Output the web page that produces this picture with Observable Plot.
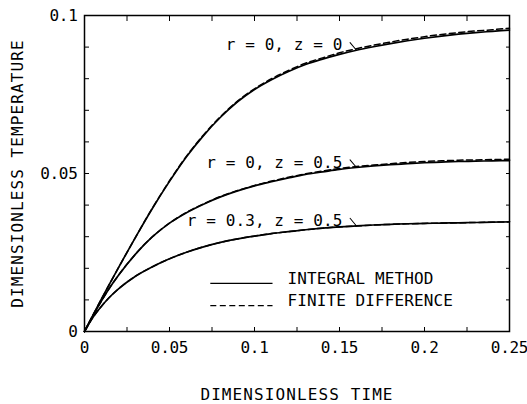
<!DOCTYPE html>
<html>
<head>
<meta charset="utf-8">
<script src="https://cdn.jsdelivr.net/npm/d3@7"></script>
<script src="https://cdn.jsdelivr.net/npm/@observablehq/plot@0.6"></script>
<style>
  body { margin: 0; background: #fff; }
  #chart svg text { font-family: "DejaVu Sans Mono", monospace; }
  g[aria-description="tick label"] text { letter-spacing: -0.3px; }
  g[aria-description="axis title"] text { letter-spacing: 1.1px; }
  g[aria-description="curve label"] text { letter-spacing: 0.1px; }
  g[aria-description="legend label"] text { letter-spacing: 0.1px; }
</style>
</head>
<body>
<div id="chart"></div>
<script>
// Dimensionless time samples shared by all curves
const time = [0, 0.005, 0.01, 0.015, 0.02, 0.03, 0.04, 0.05, 0.06, 0.07, 0.08, 0.09,
  0.10, 0.11, 0.12, 0.13, 0.14, 0.15, 0.16, 0.17, 0.18, 0.19, 0.20, 0.21, 0.22, 0.23, 0.24, 0.25];

// Integral method
const integralR0Z0 = [0, 0.0052, 0.0103, 0.0153, 0.0202, 0.0298, 0.0390, 0.0475, 0.0553, 0.0620, 0.0678, 0.0727,
  0.0766, 0.0797, 0.0823, 0.0845, 0.0862, 0.0877, 0.0890, 0.0901, 0.0911, 0.0920, 0.0928, 0.0935, 0.0941, 0.0946, 0.0950, 0.0954];
const integralR0Z05 = [0, 0.0050, 0.0097, 0.0140, 0.0178, 0.0245, 0.0300, 0.0343, 0.0376, 0.0403, 0.0426, 0.0445,
  0.0461, 0.0474, 0.0486, 0.0497, 0.0505, 0.0513, 0.0519, 0.0524, 0.0528, 0.0531, 0.0534, 0.0536, 0.0538, 0.0539, 0.0540, 0.0541];
const integralR03Z05 = [0, 0.0045, 0.0080, 0.0110, 0.0135, 0.0175, 0.0205, 0.0230, 0.0251, 0.0268, 0.0282, 0.0293,
  0.0302, 0.0310, 0.0316, 0.0322, 0.0327, 0.0331, 0.0334, 0.0337, 0.0339, 0.0341, 0.0342, 0.0343, 0.0344, 0.0345, 0.0346, 0.0347];

// Finite difference
const finiteR0Z0 = [0, 0.0052, 0.0103, 0.0153, 0.0202, 0.0298, 0.0391, 0.0477, 0.0555, 0.0622, 0.0680, 0.0729,
  0.0768, 0.0800, 0.0826, 0.0849, 0.0866, 0.0882, 0.0895, 0.0906, 0.0916, 0.0925, 0.0933, 0.0940, 0.0946, 0.0951, 0.0955, 0.0960];
const finiteR0Z05 = [0, 0.0050, 0.0097, 0.0140, 0.0178, 0.0245, 0.0300, 0.0343, 0.0377, 0.0404, 0.0427, 0.0446,
  0.0462, 0.0476, 0.0488, 0.0499, 0.0508, 0.0516, 0.0522, 0.0527, 0.0531, 0.0535, 0.0538, 0.0540, 0.0542, 0.0543, 0.0544, 0.0545];
const finiteR03Z05 = [0, 0.0045, 0.0080, 0.0110, 0.0135, 0.0175, 0.0205, 0.0230, 0.0251, 0.0268, 0.0282, 0.0293,
  0.0302, 0.0310, 0.0316, 0.0322, 0.0327, 0.0331, 0.0334, 0.0337, 0.0339, 0.0341, 0.0342, 0.0343, 0.0344, 0.0345, 0.0346, 0.0347];

// Curve names and tick labels
const curveNames = ["r = 0, z = 0", "r = 0, z = 0.5", "r = 0.3, z = 0.5"];
const methodNames = ["INTEGRAL METHOD", "FINITE DIFFERENCE"];
const xTickValues = [0, 0.05, 0.1, 0.15, 0.2, 0.25];
const xTickLabels = ["0", "0.05", "0.1", "0.15", "0.2", "0.25"];
const yTickValues = [0, 0.05, 0.1];
const yTickLabels = ["0", "0.05", "0.1"];
const xMinorTicks = [0, 0.025, 0.05, 0.075, 0.1, 0.125, 0.15, 0.175, 0.2, 0.225, 0.25];
const yMinorTicks = [0, 0.01, 0.02, 0.03, 0.04, 0.05, 0.06, 0.07, 0.08, 0.09, 0.1];

// Long-form rows for the line marks
const toRows = (values, name) => time.map((t, i) => ({t, v: values[i], name}));
const integralRows = [integralR0Z0, integralR0Z05, integralR03Z05].flatMap((s, k) => toRows(s, curveNames[k]));
const finiteRows = [finiteR0Z0, finiteR0Z05, finiteR03Z05].flatMap((s, k) => toRows(s, curveNames[k]));

// Each curve label hangs off its curve at t = 0.16
const labelIndex = time.indexOf(0.16);
const curveLabels = [integralR0Z0, integralR0Z05, integralR03Z05].map((s, k) => ({
  t: time[labelIndex], v: s[labelIndex], text: curveNames[k]
}));

// Legend placement inside the frame (data units)
const legendX1 = 0.074, legendX2 = 0.1106, legendTextX = 0.1194;
const legendY = [0.0152, 0.0082];

const xLabel = d => xTickLabels[xTickValues.indexOf(d)];
const yLabel = d => yTickLabels[yTickValues.indexOf(d)];

// a plain stroke used for the label leaders
const leader = {draw(context, l) { context.moveTo(0, 0); context.lineTo(0, -l); }};

const chart = Plot.plot({
  width: 527,
  height: 404,
  marginLeft: 84,
  marginRight: 18,
  marginTop: 15,
  marginBottom: 73,
  style: {fontFamily: '"DejaVu Sans Mono", monospace', fontSize: "16px", background: "white", color: "black"},
  x: {domain: [0, 0.25]},
  y: {domain: [0, 0.1]},
  marks: [
    // inward ticks on all four sides
    Plot.axisX({anchor: "bottom", ticks: xMinorTicks, tickSize: -4, tickFormat: () => "", label: null}),
    Plot.axisX({anchor: "top", ticks: xMinorTicks, tickSize: -5, tickFormat: () => "", label: null}),
    Plot.axisY({anchor: "left", ticks: yMinorTicks, tickSize: -5, tickFormat: () => "", label: null}),
    Plot.axisY({anchor: "right", ticks: yMinorTicks, tickSize: -4, tickFormat: () => "", label: null}),
    // tick labels
    Plot.axisX({anchor: "bottom", ticks: xTickValues, tickSize: 0, tickPadding: 10, tickFormat: xLabel,
      label: null, fontSize: 16, ariaDescription: "tick label"}),
    Plot.axisY({anchor: "left", ticks: yTickValues, tickSize: 0, tickPadding: 7, tickFormat: yLabel,
      label: null, fontSize: 16, ariaDescription: "tick label"}),
    // axis titles
    Plot.text(["DIMENSIONLESS TIME"], {frameAnchor: "bottom", dy: 63, textAnchor: "middle", lineAnchor: "middle",
      fontSize: 16, fill: "black", ariaDescription: "axis title"}),
    Plot.text(["DIMENSIONLESS TEMPERATURE"], {frameAnchor: "left", dx: -67, rotate: -90, textAnchor: "middle",
      lineAnchor: "middle", fontSize: 16, fill: "black", ariaDescription: "axis title"}),
    // curves
    Plot.line(integralRows, {x: "t", y: "v", z: "name", stroke: "black", strokeWidth: 1.7, curve: "monotone-x"}),
    Plot.line(finiteRows, {x: "t", y: "v", z: "name", stroke: "black", strokeWidth: 1.5, strokeDasharray: "6,3.5",
      curve: "monotone-x"}),
    // curve labels with leaders
    Plot.vector(curveLabels, {x: "t", y: "v", anchor: "end", length: 10, rotate: 140, shape: leader,
      stroke: "black", strokeWidth: 1}),
    Plot.text(curveLabels, {x: "t", y: "v", text: "text", textAnchor: "end", lineAnchor: "middle", dx: -14, dy: -5,
      fontSize: 16, fill: "black", ariaDescription: "curve label"}),
    // legend
    Plot.link([0], {x1: () => legendX1, x2: () => legendX2, y1: () => legendY[0], y2: () => legendY[0],
      stroke: "black", strokeWidth: 1.3}),
    Plot.link([0], {x1: () => legendX1, x2: () => legendX2, y1: () => legendY[1], y2: () => legendY[1],
      stroke: "black", strokeWidth: 1.3, strokeDasharray: "6,3.5"}),
    Plot.text(methodNames, {x: () => legendTextX, y: (d, i) => legendY[i], text: d => d, textAnchor: "start",
      lineAnchor: "middle", dy: -5, fontSize: 16, fill: "black", ariaDescription: "legend label"}),
    Plot.frame({stroke: "black", strokeWidth: 1.5})
  ]
});

document.getElementById("chart").appendChild(chart);
</script>
</body>
</html>
